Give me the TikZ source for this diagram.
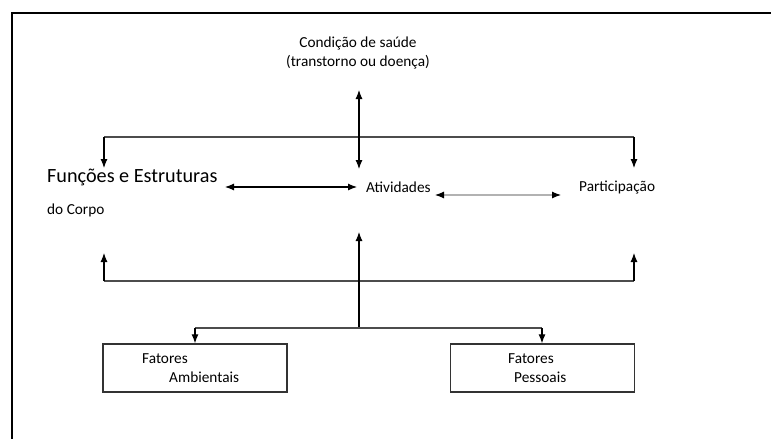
\documentclass[tikz,border=0pt]{standalone}
\usepackage{fontspec}
\setmainfont{Carlito}
\usetikzlibrary{arrows.meta}

\begin{document}
\begin{tikzpicture}[x=1pt,y=-1pt,
    texto/.style={inner sep=0pt, font=\fontsize{15.3}{19}\selectfont},
    caixa/.style={draw=black!80, line width=1.4pt, minimum width=184pt, minimum height=48pt, inner sep=0pt},
    seta/.style={line width=1.1pt, -{Latex[length=9pt,width=7pt]}},
    duplaseta/.style={line width=1.1pt, {Latex[length=9pt,width=7pt,color=black]}-{Latex[length=9pt,width=7pt,color=black]}},
    linha/.style={line width=1.3pt, draw=black!70}]
  \useasboundingbox (0,0) rectangle (771,439);
  \begin{scope}
    \clip (0,0) rectangle (771,439);
    \draw[line width=2.2pt] (12,13) rectangle (790,460);
  \end{scope}

  % Textos
  \node[texto, align=center] (saude) at (358,53) {Condição de saúde\\(transtorno ou doença)};
  \node[texto, anchor=west, font=\fontsize{20.2}{24}\selectfont] (func) at (47,177) {Funções e Estruturas};
  \node[texto, anchor=west] (corpo) at (47,210) {do Corpo};
  \node[texto, anchor=west] (ativ) at (366,187) {Atividades};
  \node[texto, anchor=west] (part) at (579,187) {Participação};

  % Caixas
  \node[caixa] (amb) at (195,368) {};
  \node[texto, anchor=west, align=left] (ambtxt) at (142,368) {Fatores\\\hspace*{27pt}Ambientais};
  \node[caixa] (pes) at (542.5,368) {};
  \node[texto, anchor=west, align=left] (pestxt) at (508,368) {Fatores\\\hspace*{6pt}Pessoais};

  % Pontos de ligacao
  \coordinate (s1) at (359,90);
  \coordinate (s2) at (359,169);
  \coordinate (ce) at (104,137);
  \coordinate (cd) at (634,137);
  \coordinate (ie) at (104,281);
  \coordinate (id) at (634,281);
  \coordinate (be) at (195,328);
  \coordinate (bd) at (542,328);
  \coordinate (bm) at (359,328);

  % Linha superior
  \draw[linha] (ce) -- (cd);
  \draw[seta] (ce) -- (104,168);
  \draw[seta] (cd) -- (634,168);
  \draw[duplaseta] (s1) -- (s2);

  % Setas entre os componentes
  \draw[duplaseta] (225,187) -- (357,187);
  \draw[duplaseta, draw=black!30] (435,195) -- (561,195);

  % Linha inferior
  \draw[linha] (ie) -- (id);
  \draw[seta] (ie) -- (104,253);
  \draw[seta] (id) -- (634,253);
  \draw[seta] (bm) -- (359,232);
  \draw[linha] (be) -- (bd);
  \draw[seta] (be) -- (amb.north -| be);
  \draw[seta] (bd) -- (pes.north -| bd);
\end{tikzpicture}
\end{document}
